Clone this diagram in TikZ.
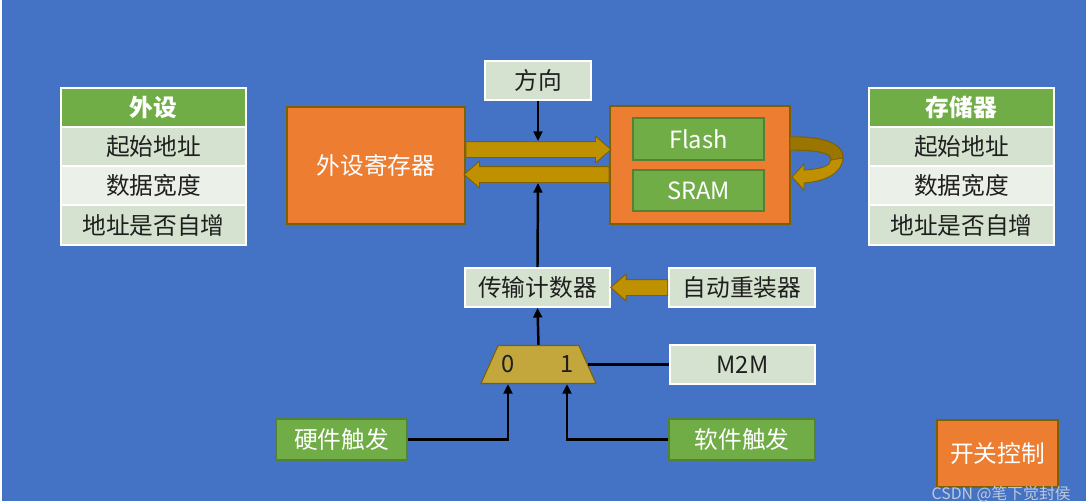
\documentclass[tikz,border=0pt]{standalone}
\usepackage{fontspec}
\setmainfont{Noto Sans CJK SC}
\usetikzlibrary{arrows.meta,shapes.geometric,shapes.arrows}

\definecolor{bgblue}{HTML}{4472C4}
\definecolor{boxorange}{HTML}{ED7D31}
\definecolor{boxgreen}{HTML}{70AD47}
\definecolor{greenedge}{HTML}{548235}
\definecolor{rowdark}{HTML}{D5E2CF}
\definecolor{rowlight}{HTML}{EBF0E8}
\definecolor{busgold}{HTML}{BF9000}
\definecolor{busedge}{HTML}{7F6000}
\definecolor{busdark}{HTML}{9A7600}
\definecolor{muxgold}{HTML}{C4A73C}
\definecolor{darktext}{HTML}{1F1F1F}
\definecolor{marktext}{HTML}{C0C8D6}

\tikzset{
  every node/.style={font=\fontsize{13.5}{16}\selectfont, inner sep=0pt},
  headbox/.style={draw=white, line width=1pt, fill=boxgreen, text=white,
    font=\fontsize{13.5}{16}\selectfont\bfseries, minimum width=3.7cm, minimum height=0.79cm},
  rowbox/.style={draw=white, line width=1pt, fill=#1, text=darktext,
    minimum width=3.7cm, minimum height=0.79cm},
  lightbox/.style={draw=white, line width=1pt, fill=rowdark, text=darktext, minimum height=0.78cm},
  greenbox/.style={draw=greenedge, line width=0.6pt, fill=boxgreen, text=white},
  orangebox/.style={draw=busedge, line width=0.6pt, fill=boxorange, text=white},
  bus/.style={single arrow, draw=busedge, line width=0.5pt, fill=busgold, inner xsep=0pt,
    inner ysep=0.15cm, minimum width=0.52cm, single arrow head extend=0.11cm,
    single arrow tip angle=82, anchor=tail},
  wire/.style={line width=1.4pt, -{Triangle[length=5.5pt,width=5pt]}},
}

\begin{document}
\begin{tikzpicture}[x=0.02cm, y=-0.02cm]
  \fill[white] (0,0) rectangle (1086,504);
  \fill[bgblue] (2,0) rectangle (1086,501);

  % peripheral table
  \node[headbox] (perhead) at (153.5,107.5) {外设};
  \node[rowbox=rowdark] (perstart) at (153.5,147) {起始地址};
  \node[rowbox=rowlight] (perwidth) at (153.5,186) {数据宽度};
  \node[rowbox=rowdark] (perinc) at (153.5,225) {地址是否自增};

  % memory table
  \node[headbox] (memhead) at (961.5,107.5) {存储器};
  \node[rowbox=rowdark] (memstart) at (961.5,147) {起始地址};
  \node[rowbox=rowlight] (memwidth) at (961.5,186) {数据宽度};
  \node[rowbox=rowdark] (meminc) at (961.5,225) {地址是否自增};

  \node[orangebox, minimum width=3.56cm, minimum height=2.34cm] (reg) at (376,165.5) {外设寄存器};
  \node[orangebox, minimum width=3.6cm, minimum height=2.36cm] (mem) at (700,165) {};
  \node[greenbox, minimum width=2.62cm, minimum height=0.84cm] (flash) at (698.5,139) {Flash};
  \node[greenbox, minimum width=2.62cm, minimum height=0.82cm] (sram) at (698.5,190.5) {SRAM};

  \node[lightbox, minimum width=2.12cm] (dir) at (538,80.5) {方向};
  \node[lightbox, minimum width=2.9cm] (counter) at (537.5,287.5) {传输计数器};
  \node[lightbox, minimum width=2.92cm] (reload) at (742,287.5) {自动重装器};
  \node[lightbox, minimum width=2.9cm] (m2m) at (742.5,364.5) {M2M};

  \node[greenbox, minimum width=2.62cm, minimum height=0.82cm] (hwtrig) at (341.5,439.5) {硬件触发};
  \node[greenbox, minimum width=2.92cm, minimum height=0.82cm] (swtrig) at (742,439.5) {软件触发};
  \node[orangebox, minimum width=2.42cm, minimum height=1.34cm] (enable) at (997.5,453.5) {开关控制};

  % selector
  \node[trapezium, trapezium left angle=78, trapezium right angle=78, trapezium stretches=true,
    inner sep=1pt, minimum width=2.3cm, minimum height=0.76cm, draw=busedge, line width=0.6pt,
    fill=muxgold] (mux) at (538.5,364.5) {};
  \node[text=darktext] (sel0) at (508,364.5) {0};
  \node[text=darktext] (sel1) at (567,364.5) {1};

  % data buses
  \node[bus, minimum height=2.9cm] (wr) at (reg.east |- 0,149.5) {};
  \node[bus, shape border rotate=180, minimum height=2.9cm] (rd) at (mem.west |- 0,174.5) {};
  \node[bus, shape border rotate=180, minimum height=1.14cm] (load) at (reload.west) {};

  % memory to memory loop
  \fill[busgold, draw=busedge, line width=0.5pt] (790,137) .. controls (828,136) and (844,146) .. (843,158)
    .. controls (842,172) and (828,181) .. (804,183) -- (804,190) -- (792,177) -- (804,164) -- (804,170)
    .. controls (822,169) and (830,166) .. (831,160) .. controls (832,153) and (818,150) .. (790,150) -- cycle;
  \fill[busdark, draw=busedge, line width=0.5pt] (790,137) .. controls (828,136) and (844,146) .. (843,158)
    -- (831,160) .. controls (832,153) and (818,150) .. (790,150) -- cycle;

  \coordinate (wrtop) at (538,141);
  \coordinate (rdbot) at (538,183);
  \draw[wire] (dir.south) -- (wrtop);
  \draw[wire] (counter.north) -- (rdbot);
  \draw[wire] (mux.north) -- (counter.south);
  \draw[line width=1.4pt] (m2m.west) -- (mux.east);
  \draw[wire] (hwtrig.east) -| (sel0 |- mux.south);
  \draw[wire] (swtrig.west) -| (sel1 |- mux.south);

  \node[text=marktext, font=\fontsize{9}{11}\selectfont, anchor=east] (mark) at (1071,494) {CSDN @笔下觉封侯};
\end{tikzpicture}
\end{document}
